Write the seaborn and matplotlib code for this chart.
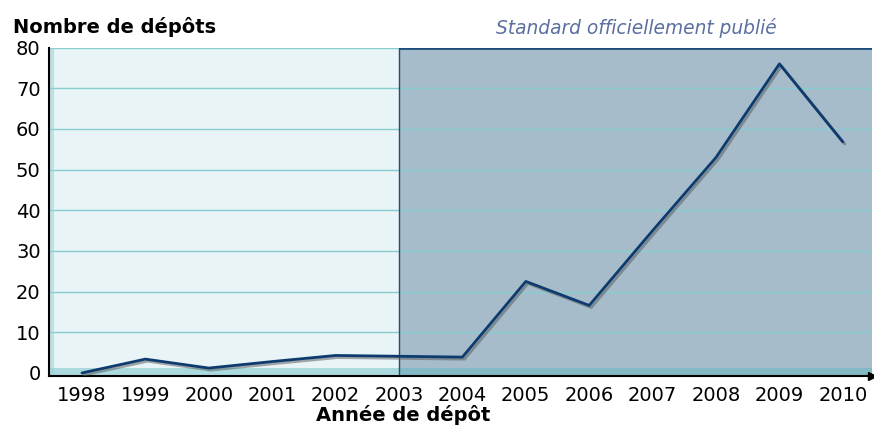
import matplotlib
matplotlib.use("Agg")
import matplotlib.pyplot as plt
import matplotlib.patheffects as pe
import pandas as pd
import seaborn as sns

years = [1998, 1999, 2000, 2001, 2002, 2003, 2004, 2005, 2006, 2007, 2008, 2009, 2010]
depots = [0, 3.4, 1.2, 2.8, 4.3, 4.1, 3.9, 22.5, 16.6, 35, 53, 76, 56.8]
yticks = [0, 10, 20, 30, 40, 50, 60, 70, 80]
published_from = 2003

sns.set_style("white")
plt.rcParams["font.family"] = ["DejaVu Sans"]

df = pd.DataFrame({"annee": years, "depots": depots})

fig = plt.figure(figsize=(8.74, 4.3), dpi=100)
ax = fig.add_axes([49 / 874, 54 / 430, 823 / 874, 328.4 / 430])
ax.set_facecolor("#e8f4f6")

xmin, xmax = 1997.48, 2010.46
ax.set_xlim(xmin, xmax)
ax.set_ylim(-0.75, 80)

# zone "standard publié"
ax.axvspan(published_from, xmax, color="#a6bccb", zorder=0.5, lw=0)
ax.axvline(published_from, color="#1f4e7a", lw=1, zorder=1.5)
ax.hlines(80, published_from, xmax, color="#1f4e7a", lw=2, zorder=1.5)

# grille + sol
for v in yticks[1:]:
    ax.axhline(v, color="#86ced2", lw=1, zorder=1)
ax.axhspan(-0.75, 1.2, color="#4eb5bc", alpha=0.4, lw=0, zorder=1)
ax.axvspan(xmin, xmin + 0.08, color="#9fd3d8", alpha=0.6, lw=0, zorder=1)

sns.lineplot(
    data=df, x="annee", y="depots", ax=ax, color="#0d3b6e", lw=2.0, zorder=3,
    path_effects=[pe.SimpleLineShadow(offset=(1.5, -1.5), shadow_color="#555555", alpha=0.5), pe.Normal()],
)

ax.set_xticks(years)
ax.set_xticklabels([str(y) for y in years])
ax.set_yticks(yticks)
ax.tick_params(axis="both", length=0, labelsize=14, colors="black")
ax.tick_params(axis="x", pad=7)
ax.tick_params(axis="y", pad=6)
ax.set_xlabel("")
ax.set_ylabel("")

for s in ["top", "right"]:
    ax.spines[s].set_visible(False)
for s in ["left", "bottom"]:
    ax.spines[s].set_color("black")
    ax.spines[s].set_linewidth(1.5)
ax.plot(1, 0, ">", color="black", ms=6, transform=ax.transAxes, clip_on=False, zorder=5)

fig.text(13 / 874, 1 - 33 / 430, "Nombre de dépôts", fontsize=14, fontweight="bold",
         color="black", ha="left", va="baseline")
fig.text(636 / 874, 1 - 28 / 430, "Standard officiellement publié", fontsize=13.4, style="italic",
         color="#5b6fa0", ha="center", va="center")
fig.text(403 / 874, 1 - 415 / 430, "Année de dépôt", fontsize=14, fontweight="bold",
         color="black", ha="center", va="center")

fig.savefig("out.png", dpi=100)
